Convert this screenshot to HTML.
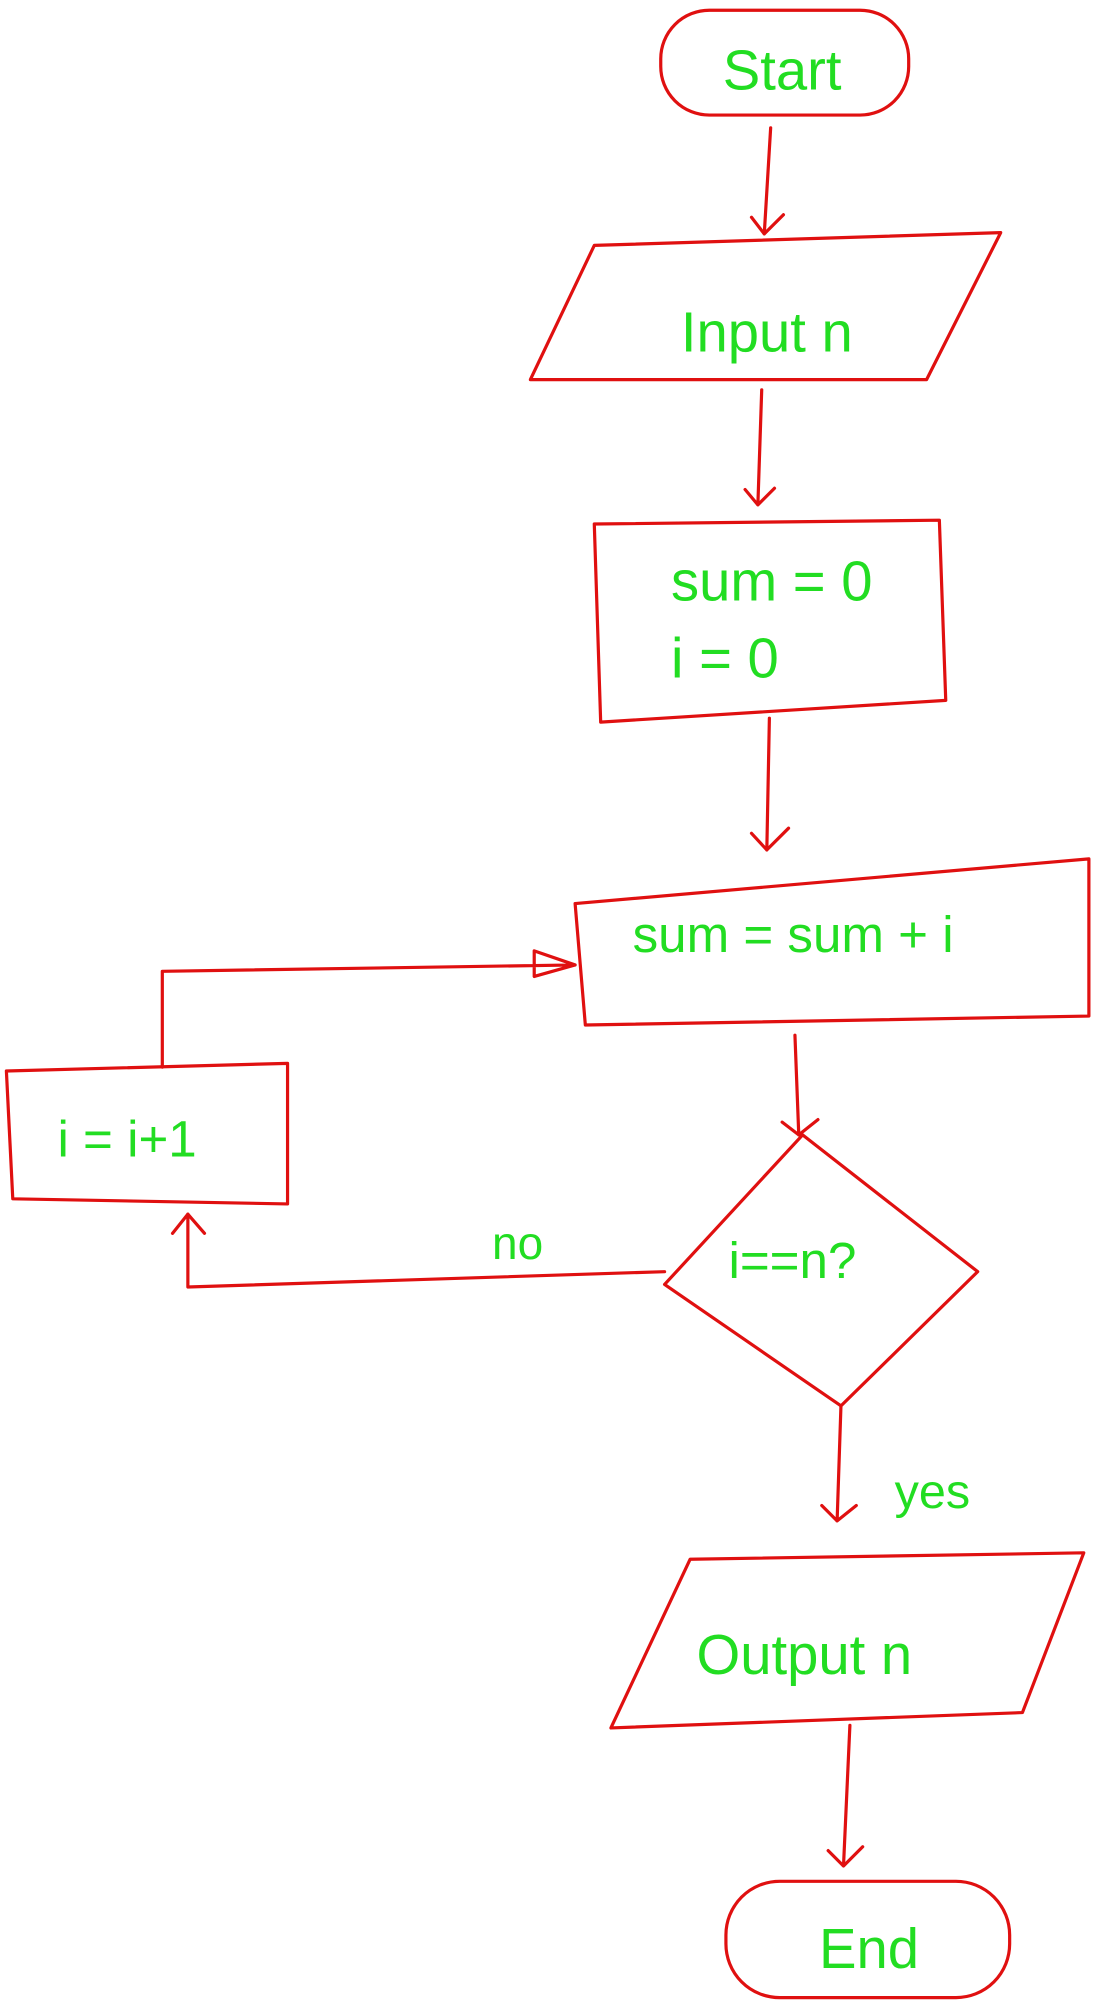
<!DOCTYPE html>
<html><head><meta charset="utf-8"><style>
html,body{margin:0;padding:0;background:#fff;}
svg{display:block;}
text{font-family:"Liberation Sans",sans-serif;fill:#22dd22;font-weight:300;}
.r{fill:none;stroke:#e01010;stroke-width:2.5;stroke-linejoin:round;stroke-linecap:round;}
</style></head><body>
<svg width="1094" height="2004" viewBox="0 0 856 1568" xmlns="http://www.w3.org/2000/svg">
<rect class="r" x="517" y="8" width="194" height="82" rx="38"/>
<text x="612" y="70" font-size="44" text-anchor="middle">Start</text>
<path class="r" d="M603 100 L598 183 M588 170 L598 183 L613 168"/>
<path class="r" d="M465 192 L783 182 L725 297 L415 297 Z"/>
<text x="600" y="275" font-size="44" text-anchor="middle">Input n</text>
<path class="r" d="M596 305 L593 395 M583 383 L593 395 L606 382"/>
<path class="r" d="M465 410 L735 407 L740 548 L470 565 Z"/>
<text x="525" y="470" font-size="44">sum = 0</text>
<text x="525" y="530" font-size="44">i = 0</text>
<path class="r" d="M602 562 L600 665 M588 652 L600 665 L617 648"/>
<path class="r" d="M450 707 L852 672 L852 795 L458 802 Z"/>
<text x="495" y="745" font-size="40">sum = sum + i</text>
<path class="r" d="M127 835 L127 760 L450 755 M418 744 L450 755 L418 764 Z"/>
<path class="r" d="M5 838 L225 832 L225 942 L10 938 Z"/>
<text x="45" y="905" font-size="40">i = i+1</text>
<path class="r" d="M622 810 L625 888 M612 878 L625 888 L640 876"/>
<path class="r" d="M628 888 L765 995 L658 1100 L520 1005 Z"/>
<text x="570" y="1000" font-size="40">i==n?</text>
<path class="r" d="M520 995 L147 1007 L147 950 M135 965 L147 950 L160 965"/>
<text x="385" y="985" font-size="36">no</text>
<path class="r" d="M658 1100 L655 1190 M643 1178 L655 1190 L670 1178"/>
<text x="700" y="1180" font-size="38">yes</text>
<path class="r" d="M540 1220 L848 1215 L800 1340 L478 1352 Z"/>
<text x="545" y="1310" font-size="44">Output n</text>
<path class="r" d="M665 1350 L660 1460 M648 1448 L660 1460 L675 1445"/>
<rect class="r" x="568" y="1472" width="222" height="91" rx="42"/>
<text x="680" y="1540" font-size="44" text-anchor="middle">End</text>
</svg>
</body></html>
